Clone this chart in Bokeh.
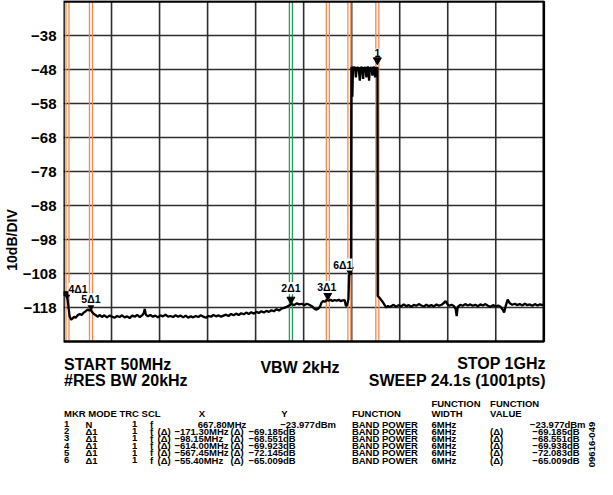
import math
from bokeh.plotting import figure
from bokeh.models import Label, FixedTicker, Range1d
from bokeh.embed import file_html
from bokeh.resources import INLINE

# ---------------- data ----------------
span_mhz = (45.9, 997.6)
level_range = (-128, -28)
y_ticks = [-38, -48, -58, -68, -78, -88, -98, -108, -118]

trace_mhz = [
    46, 48, 50, 52, 54, 56, 58, 61, 64, 67, 70, 74, 78, 82, 86, 90, 94, 97, 100, 103, 106, 110, 114, 118,
    122, 127, 132, 137, 142, 147, 152, 157, 162, 167, 172, 177, 182, 187, 192, 197, 202, 205, 207, 209,
    213, 218, 223, 228, 233, 238, 243, 248, 253, 258, 263, 268, 273, 278,
    283, 288, 293, 298, 303, 308, 313, 318, 323, 328, 333, 338, 343, 348, 353, 358, 363, 368, 373, 378,
    383, 388, 393, 398, 403, 408, 413, 418, 423, 428, 433, 438, 443, 448, 453, 458, 463, 468, 473, 478,
    483, 488, 493, 498, 503, 508, 513,
    518, 523, 528, 533, 538, 542, 546, 550, 554, 557, 560, 564, 567, 571, 575, 579, 583, 587, 591, 595,
    599, 603, 605.5, 608, 610.5, 612, 614, 615.5, 616.4, 617.5, 618.3, 619.5,
    620.5, 622, 623.5, 625.2, 627, 628.8, 630.5, 633.1, 635, 636.7, 638, 639.6, 641.3, 643, 644.5, 646.1,
    647.5, 648.9, 650, 651.4, 653, 654.8, 656.4, 658, 659.4, 660.7, 662, 663.3, 664.8, 666.2, 667.3,
    668.0, 668.6, 671, 674.5, 678, 682, 685.5, 689, 692,
    695, 700, 705, 710, 715, 720, 725, 730, 735, 740, 745, 750, 755, 760, 765, 770, 775, 780, 785, 790,
    795, 800, 803, 806, 810, 815, 820, 823, 825, 827, 832, 837, 842, 847, 852, 857, 862, 867, 872, 877,
    882, 887, 892, 897, 902, 907, 912, 916, 919, 922, 926, 930, 935, 940, 945, 950, 955, 960, 965, 970,
    975, 980, 985, 990, 995, 998,
]
trace_dbm = [
    -114.6, -113.6, -114.0, -114.8, -115.6, -118.2, -120.6, -121.6, -121.2, -120.7, -121.0, -120.3, -119.9, -120.2, -119.5, -119.1, -118.6, -118.9, -118.7, -119.4, -119.9, -120.3, -120.7, -120.2,
    -120.8, -120.3, -120.9, -120.4, -120.7, -121.0, -120.5, -120.8, -120.3, -120.9, -120.6, -121.1, -120.4, -120.7, -120.2, -120.8, -120.3, -119.6, -118.4, -120.1,
    -120.6, -120.2, -120.7, -120.4, -120.9, -120.3, -120.6, -120.1, -120.7, -120.5, -120.8, -120.3, -120.7, -120.4,
    -120.9, -120.4, -121.0, -120.6, -120.9, -120.5, -120.8, -120.3, -120.7, -121.0, -120.5, -120.7, -120.2, -120.6, -120.3, -120.7, -120.4, -120.1, -120.5, -119.9,
    -120.3, -119.8, -120.2, -119.7, -120.0, -119.5, -119.9, -119.4, -119.8, -119.3, -119.6, -119.1, -119.5, -119.0, -119.3, -118.8, -119.1, -118.5, -118.9, -118.3,
    -118.1, -117.8, -117.4, -117.0, -117.3, -116.8, -117.1,
    -116.9, -117.3, -116.9, -117.2, -117.6, -118.2, -118.6, -118.4, -117.8, -116.6, -116.1, -116.3, -115.8, -116.0, -115.7, -116.1, -115.8, -116.0, -115.7, -116.1,
    -115.9, -115.8, -117.6, -117.3, -115.5, -108.4, -108.1, -108.3, -47.6, -47.3, -56.0, -47.4,
    -47.3, -47.6, -47.2, -50.3, -47.4, -47.6, -47.3, -51.3, -47.5, -47.3, -47.6, -50.8, -47.4, -47.6, -47.3, -50.3,
    -47.5, -47.2, -47.6, -51.3, -47.4, -47.6, -47.3, -49.8, -47.5, -47.2, -47.5, -50.3, -47.4, -47.6, -47.4,
    -47.5, -114.6, -115.0, -115.6, -116.3, -117.2, -118.0, -117.5, -117.9,
    -117.6, -117.2, -117.8, -117.3, -117.7, -117.1, -117.6, -117.3, -117.8, -117.2, -117.5, -117.0, -117.4, -117.7, -117.2, -117.6, -117.3, -117.7, -117.1, -117.5,
    -117.2, -116.6, -116.1, -116.9, -117.5, -117.2, -117.6, -118.5, -120.5, -117.8, -117.2, -117.5, -117.0, -117.4, -117.1, -117.5, -117.2, -117.6, -117.1, -117.4,
    -117.0, -117.5, -117.8, -117.3, -117.7, -117.4, -117.8, -118.6, -119.5, -117.6, -115.7, -116.7, -117.2, -116.9, -117.3, -117.0, -117.4, -116.9, -117.3, -117.1,
    -117.5, -117.0, -117.4, -117.1, -117.3, -117.0,
]

ref_mhz = 667.80
mkr_ids = [1, 2, 3, 4, 5, 6]
mkr_mode = ["N", "Δ1", "Δ1", "Δ1", "Δ1", "Δ1"]
mkr_delta_mhz = [0.0, -171.30, -98.15, -614.00, -567.45, -55.40]
mkr_level_dbm = [-46.6, -117.0, -115.8, -115.4, -118.8, -108.3]
mkr_y_text = ["−23.977dBm", "−69.185dB", "−68.551dB", "−69.923dB", "−72.145dB", "−65.009dB"]
fn_value_text = ["−23.977dBm", "−69.185dB", "−68.551dB", "−69.938dB", "−72.083dB", "−65.009dB"]
band_width_mhz = 6

# ---------------- geometry (screen px of the 613x495 page) ----------------
W, H = 597, 479
PAGE = 8
AXW = 60                      # y-axis panel width
CL, CR, CT, CB = 68, 551, 9, 349   # chart box on screen
FR, FB = PAGE + W, PAGE + H        # frame right / bottom on screen
X0, X1 = span_mhz
Y0, Y1 = level_range
kx = (CR - CL) / (X1 - X0)
ky = (CB - CT) / (Y1 - Y0)
x_rng = Range1d(X0, X1 + (FR - CR) / kx)
y_rng = Range1d(Y0 - (FB - CB) / ky, Y1 + (CT - PAGE) / ky)


def DX(sx):
    return X0 + (sx - CL) / kx


def DY(sy):
    return Y1 - (sy - CT) / ky


p = figure(width=W, height=H, output_backend="svg", toolbar_location=None, title=None,
           x_range=x_rng, y_range=y_rng, x_axis_location=None,
           min_border_left=AXW, min_border_right=0, min_border_top=0, min_border_bottom=0)
p.background_fill_color = "white"
p.border_fill_color = "white"
p.outline_line_color = None
p.xgrid.visible = False
p.ygrid.visible = False

yax = p.yaxis[0]
yax.ticker = FixedTicker(ticks=y_ticks)
yax.major_label_overrides = {t: ("−" + str(abs(t))) for t in y_ticks}
yax.axis_line_color = None
yax.major_tick_line_color = None
yax.minor_tick_line_color = None
yax.major_tick_out = 0
yax.major_tick_in = 0
yax.major_label_standoff = 7
yax.major_label_text_font = "Liberation Sans"
yax.major_label_text_font_style = "bold"
yax.major_label_text_font_size = "15px"
yax.major_label_text_color = "black"
yax.axis_label = "10dB/DIV"
yax.axis_label_standoff = 0
yax.axis_label_text_font = "Liberation Sans"
yax.axis_label_text_font_style = "bold"
yax.axis_label_text_font_size = "14px"
yax.axis_label_text_color = "black"

# divisions (10 x 10 graticule)
xdiv = [X0 + i * (X1 - X0) / 10 for i in range(1, 10)]
p.segment(x0=xdiv, y0=[Y0] * len(xdiv), x1=xdiv, y1=[Y1] * len(xdiv),
          line_color="#2e2e2e", line_width=1.6)
p.segment(x0=[X0] * len(y_ticks), y0=y_ticks, x1=[X1] * len(y_ticks), y1=y_ticks,
          line_color="#2e2e2e", line_width=1.6)

# band-power edges
mkr_mhz = [ref_mhz + d for d in mkr_delta_mhz]
edge_x, edge_c = [], []
for i, f in enumerate(mkr_mhz):
    col = "#2a9d5c" if mkr_ids[i] == 2 else "#f58a4c"
    edge_x += [f - band_width_mhz / 2, f + band_width_mhz / 2]
    edge_c += [col, col]
p.segment(x0=edge_x, y0=[Y0] * len(edge_x), x1=edge_x, y1=[Y1] * len(edge_x),
          line_color=edge_c, line_width=1.3)

# trace
p.line(trace_mhz, trace_dbm, line_color="black", line_width=2.3)

# chart border
p.quad(left=[X0], right=[X1], bottom=[Y0], top=[Y1], fill_color=None,
       line_color="black", line_width=2.6)

# marker triangles (tip on trace)
p.scatter(mkr_mhz, [v + 4.6 / ky for v in mkr_level_dbm], marker="inverted_triangle",
          size=8, fill_color="black", line_color="black")

# marker labels
lab_style = {1: ("center", 0, 12), 2: ("center", 0, 16), 3: ("center", -1, 13),
             4: ("left", 1, 10), 5: ("center", 0, 11), 6: ("right", 3, 10)}
for i, f in enumerate(mkr_mhz):
    n = mkr_ids[i]
    txt = "1" if n == 1 else f"{n}Δ1"
    al, xo, yo = lab_style[n]
    p.add_layout(Label(x=f, y=mkr_level_dbm[i], x_offset=xo, y_offset=yo, text=txt,
                       text_align=al, text_baseline="middle", text_font="Liberation Sans",
                       text_font_style="bold", text_font_size="10.5px", text_color="black",
                       background_fill_color="white"))


def put(s, sx, sy, size="9.5px", align="left", baseline="alphabetic", angle=0.0):
    p.add_layout(Label(x=DX(sx), y=DY(sy), text=s, text_align=align, text_baseline=baseline,
                       angle=angle, text_font="Liberation Sans", text_font_style="bold",
                       text_font_size=size, text_color="black"))


# instrument settings
put("START 50MHz", 68.5, 372, size="16px")
put("#RES BW 20kHz", 68.5, 388, size="16px")
put("VBW 2kHz", 266, 375, size="16px")
put("STOP 1GHz", 553, 371, size="16px", align="right")
put("SWEEP 24.1s (1001pts)", 553, 388, size="16px", align="right")

# marker table
h1, h2 = 411, 421
put("FUNCTION", 438, h1)
put("FUNCTION", 497, h1)
put("MKR MODE TRC SCL", 68.5, h2)
put("X", 204, h2)
put("Y", 287, h2)
put("FUNCTION", 358, h2)
put("WIDTH", 438, h2)
put("VALUE", 497, h2)


def fmt_mhz(v):
    return (f"{v:.2f}MHz").replace("-", "−")


for i in range(len(mkr_ids)):
    by = 431.5 + 7.2 * i
    put(str(mkr_ids[i]), 68.5, by)
    put(mkr_mode[i], 90, by)
    put("1", 137, by)
    put("f", 155, by)
    if i == 0:
        put(fmt_mhz(ref_mhz), 203, by)
        put(mkr_y_text[i], 286, by)
        put(fn_value_text[i], 593, by, align="right")
    else:
        put("(Δ)", 162.5, by)
        put(fmt_mhz(mkr_delta_mhz[i]), 179.5, by)
        put("(Δ)", 236, by)
        put(mkr_y_text[i], 254, by)
        put("(Δ)", 497, by)
        put(fn_value_text[i], 587, by, align="right")
    put("BAND POWER", 358, by)
    put(f"{band_width_mhz}MHz", 438, by)

put("09616-049", 599, 452, size="9.5px", align="center", baseline="middle", angle=math.pi / 2)

open("out.html", "w").write(file_html(p, INLINE))
